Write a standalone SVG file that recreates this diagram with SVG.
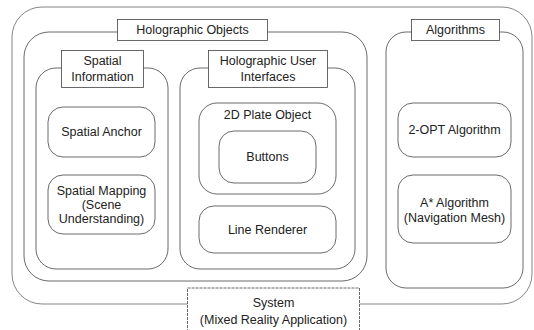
<svg xmlns="http://www.w3.org/2000/svg" width="534" height="330" viewBox="0 0 534 330">
<style>
.c{fill:none;stroke:#444;stroke-width:0.8}
.o{fill:none;stroke:#666;stroke-width:0.8}
.l{fill:#fff;stroke:#444;stroke-width:0.8}
text{font-family:"Liberation Sans",Arial,sans-serif;font-size:12.5px;fill:#222;text-anchor:middle;dominant-baseline:central}
</style>
<rect width="534" height="330" fill="#fff"/>
<g id="system">
<rect class="o" x="12" y="7" width="520" height="297" rx="30"/>
<rect class="l" x="187.5" y="288" width="172" height="46" stroke-dasharray="3 1"/>
<text x="273.5" y="303">System</text>
<text x="273.5" y="320">(Mixed Reality Application)</text>
</g>
<g id="holographic-objects">
<rect class="c" x="24" y="32" width="343" height="249" rx="25"/>
<rect class="l" x="117.5" y="19.5" width="150" height="21"/>
<text x="192.5" y="30">Holographic Objects</text>
</g>
<g id="spatial-information">
<rect class="c" x="36" y="68" width="132" height="201" rx="20"/>
<rect class="l" x="61.5" y="50.5" width="82" height="37"/>
<text x="102.5" y="61">Spatial</text>
<text x="102.5" y="77">Information</text>
</g>
<g id="holographic-ui">
<rect class="c" x="180" y="68" width="175" height="201" rx="20"/>
<rect class="l" x="208.5" y="50.5" width="119" height="37"/>
<text x="268" y="61">Holographic User</text>
<text x="268" y="77">Interfaces</text>
</g>
<g id="plate">
<rect class="c" x="199" y="103" width="137" height="91" rx="18"/>
<text x="267.5" y="115">2D Plate Object</text>
</g>
<g id="buttons">
<rect class="c" x="219" y="131" width="97" height="52" rx="15"/>
<text x="267.5" y="157">Buttons</text>
</g>
<g id="line-renderer">
<rect class="c" x="199" y="206" width="137" height="47" rx="15"/>
<text x="267.5" y="230">Line Renderer</text>
</g>
<g id="spatial-anchor">
<rect class="c" x="48" y="107" width="107" height="50" rx="15"/>
<text x="101.5" y="132">Spatial Anchor</text>
</g>
<g id="spatial-mapping">
<rect class="c" x="48" y="175" width="107" height="59" rx="15"/>
<text x="101.5" y="191">Spatial Mapping</text>
<text x="101.5" y="205">(Scene</text>
<text x="101.5" y="219">Understanding)</text>
</g>
<g id="algorithms">
<rect class="c" x="386" y="32" width="137" height="256" rx="20"/>
<rect class="l" x="411.5" y="19.5" width="88" height="21"/>
<text x="455.5" y="30">Algorithms</text>
</g>
<g id="two-opt">
<rect class="c" x="398" y="103" width="113" height="54" rx="15"/>
<text x="454.5" y="130">2-OPT Algorithm</text>
</g>
<g id="astar">
<rect class="c" x="398" y="175" width="113" height="68" rx="15"/>
<text x="454.5" y="203">A* Algorithm</text>
<text x="454.5" y="218">(Navigation Mesh)</text>
</g>
<g id="connectors"></g>
</svg>
